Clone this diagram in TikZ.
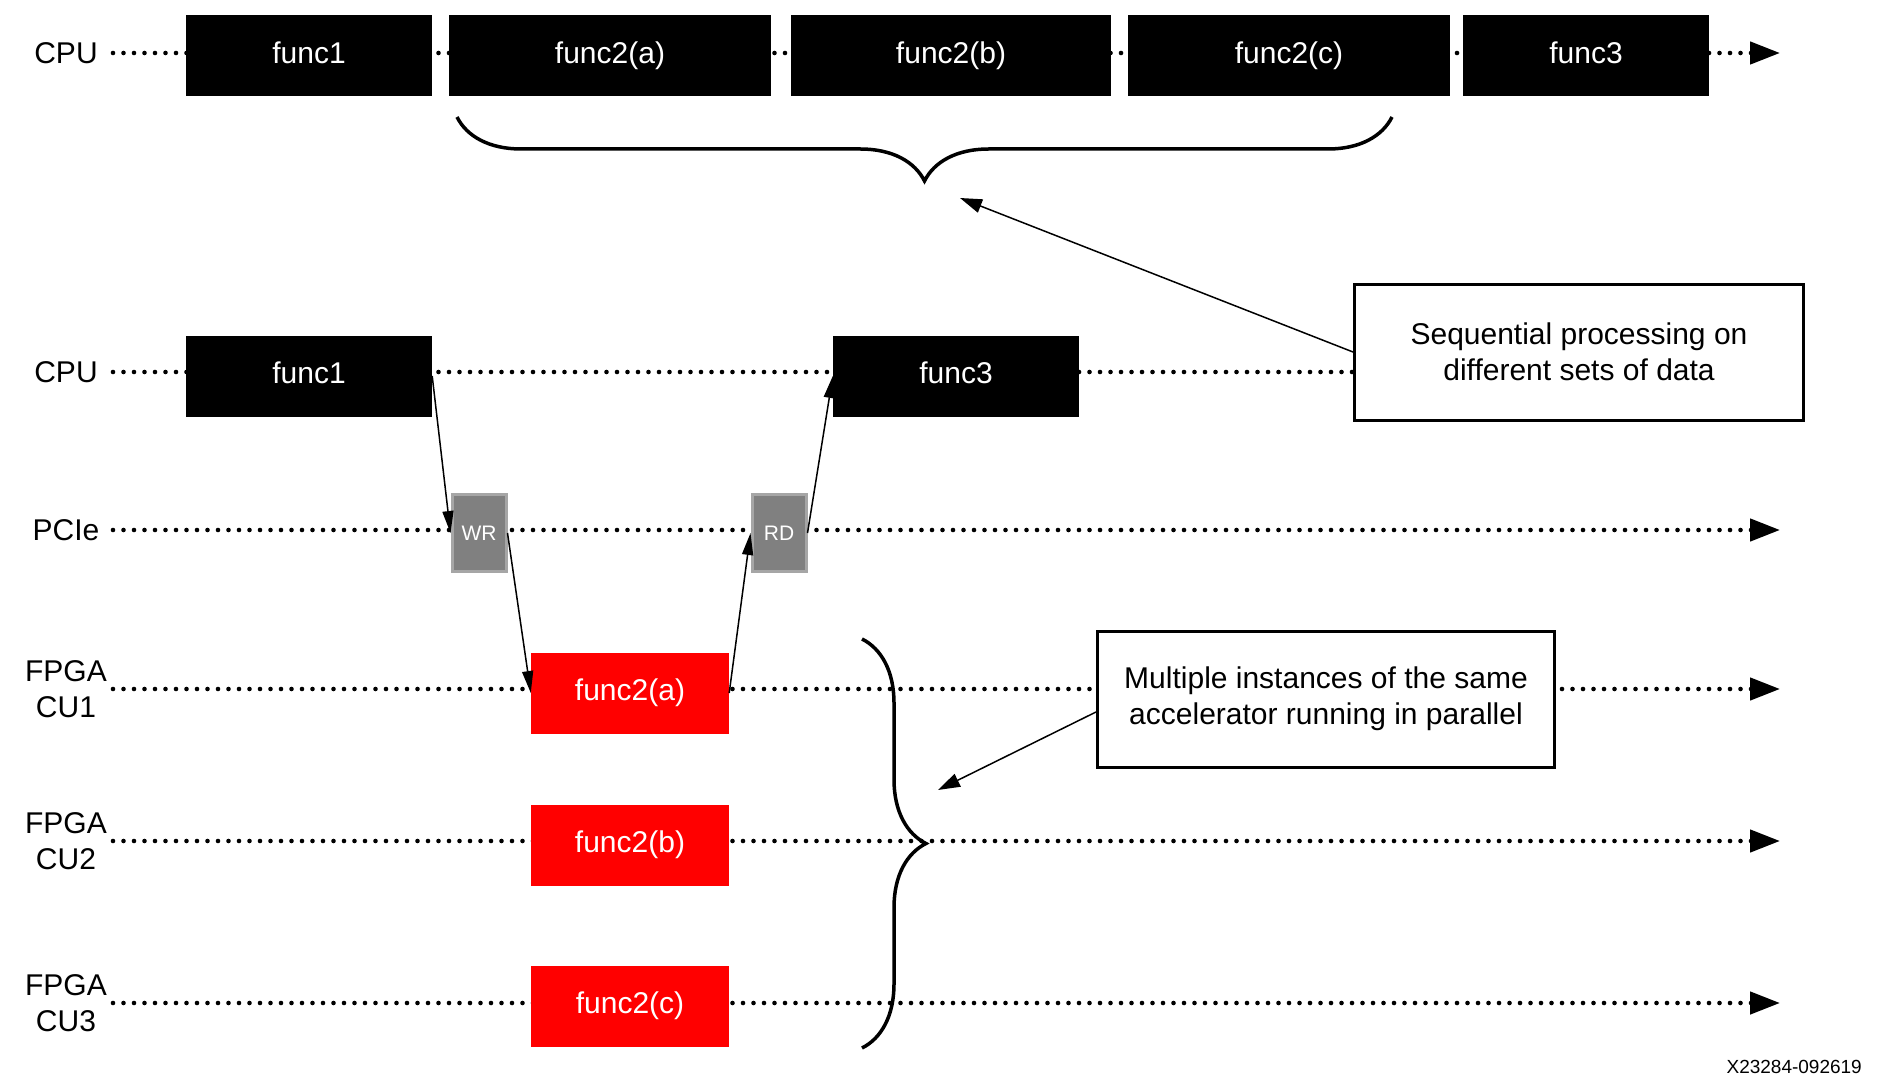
\documentclass[tikz,border=0pt]{standalone}
\usepackage{fontspec}
\setmainfont{Liberation Sans}
\usetikzlibrary{arrows.meta,decorations.pathreplacing,backgrounds}

\definecolor{pciegray}{HTML}{808080}
\definecolor{pcieedge}{HTML}{A6A6A6}

\tikzset{
  txt/.style={font=\fontsize{30}{36}\selectfont},
  lane/.style={txt, align=center},
  hostbox/.style={txt, fill=black, text=white, minimum height=81pt, inner sep=0pt, text height=22pt, text depth=7pt},
  cubox/.style={txt, fill=red, text=white, minimum width=198pt, minimum height=81pt, inner sep=0pt, text height=22pt, text depth=7pt},
  xferbox/.style={font=\fontsize{21}{24}\selectfont, fill=pciegray, draw=pcieedge, line width=3pt, text=white, minimum width=54pt, minimum height=77pt, inner sep=0pt},
  note/.style={txt, draw, line width=3pt, fill=white, align=center, minimum height=136pt},
  timeline/.style={line width=4.6pt, line cap=round, dash pattern=on 0pt off 10.5pt},
  tl/.style={timeline, -{Triangle[length=30pt,width=22pt]}},
  xfer/.style={line width=1.5pt, -{Triangle[length=22pt,width=11pt]}},
  bracebig/.style={decorate, decoration={brace, amplitude=64pt}, line width=3.5pt},
}

\begin{document}
\begin{tikzpicture}[x=1pt, y=-1pt]
\useasboundingbox (0,0) rectangle (1877,1086);

% lane labels
\node [lane] (cpuA) at (66,53) {CPU};
\node [lane] (cpuB) at (66,372) {CPU};
\node [lane] (pcie) at (66,530) {PCIe};
\node [lane] (fpgaA) at (66,689) {FPGA\\CU1};
\node [lane] (fpgaB) at (66,841) {FPGA\\CU2};
\node [lane] (fpgaC) at (66,1003) {FPGA\\CU3};
\coordinate (start) at (113,0);
\coordinate (stop) at (1780,0);

% sequential run on the CPU
\node [hostbox, minimum width=246pt] (s1) at (309,56) {func1};
\node [hostbox, minimum width=322pt] (s2a) at (610,56) {func2(a)};
\node [hostbox, minimum width=320pt] (s2b) at (951,56) {func2(b)};
\node [hostbox, minimum width=322pt] (s2c) at (1289,56) {func2(c)};
\node [hostbox, minimum width=246pt] (s3) at (1586,56) {func3};

% host + accelerator run
\node [hostbox, minimum width=246pt] (h1) at (309,376) {func1};
\node [hostbox, minimum width=246pt] (h3) at (956,376) {func3};
\node [xferbox] (wr) at (479,533) {WR};
\node [xferbox] (rd) at (779,533) {RD};
\node [cubox] (cu1) at (630,693) {func2(a)};
\node [cubox] (cu2) at (630,845) {func2(b)};
\node [cubox] (cu3) at (630,1006) {func2(c)};

% notes
\node [note, minimum width=449pt] (seq) at (1579,352) {Sequential processing on\\different sets of data};
\node [note, minimum width=457pt] (par) at (1326,699) {Multiple instances of the same\\accelerator running in parallel};
\node [font=\fontsize{19}{22}\selectfont, anchor=east, inner sep=0pt] (fig) at (1862,1067) {X23284-092619};

\begin{pgfonlayer}{background}
\fill [white] (0,0) rectangle (1877,1086);
\draw [tl] (cpuA.east -| start) -- (cpuA.east -| stop);
\draw [timeline] (cpuB.east -| start) -- (cpuB.east -| seq.west);
\draw [tl] (pcie.east -| start) -- (pcie.east -| stop);
\draw [tl] (fpgaA.east -| start) -- (fpgaA.east -| stop);
\draw [tl] (fpgaB.east -| start) -- (fpgaB.east -| stop);
\draw [tl] (fpgaC.east -| start) -- (fpgaC.east -| stop);
\end{pgfonlayer}

% transfers
\draw [xfer] (h1.east) -- (wr.west);
\draw [xfer] (wr.east) -- (cu1.west);
\draw [xfer] (cu1.east) -- (rd.west);
\draw [xfer] (rd.east) -- (h3.west);

% braces and pointers
\draw [bracebig] (1392,117) -- (457,117);
\draw [bracebig] (862,639) -- (862,1048);
\coordinate (seqTip) at (960,198);
\coordinate (parTip) at (938,790);
\draw [xfer, -{Triangle[length=22pt,width=14pt]}] (seq.west) -- (seqTip);
\draw [xfer, -{Triangle[length=22pt,width=14pt]}] ([yshift=-13pt]par.west) -- (parTip);
\end{tikzpicture}
\end{document}
